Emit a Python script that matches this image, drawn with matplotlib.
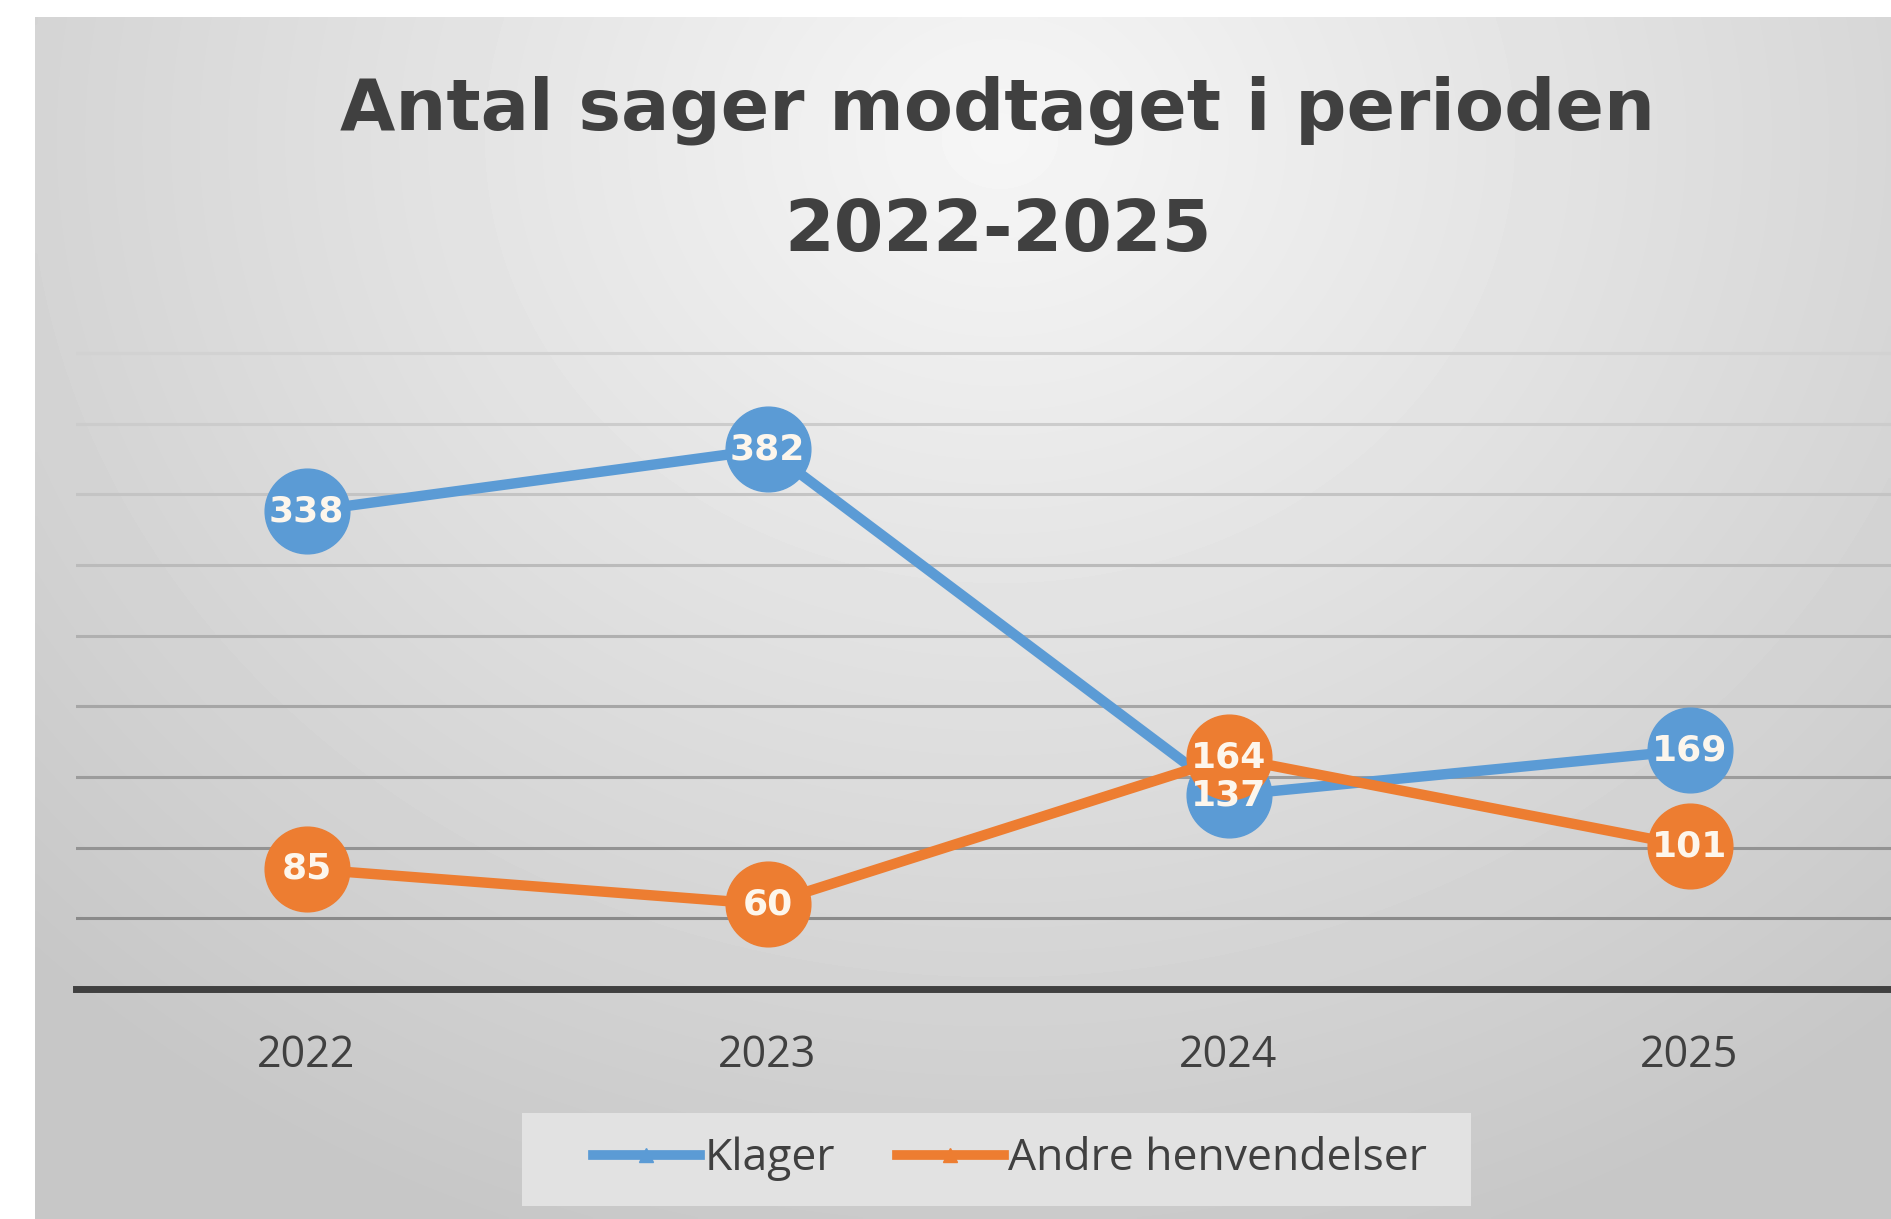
import numpy as np
import matplotlib.pyplot as plt
from matplotlib.lines import Line2D
from matplotlib.patches import Rectangle

years = ["2022", "2023", "2024", "2025"]
klager = [338, 382, 137, 169]
andre = [85, 60, 164, 101]
grid_values = [50, 100, 150, 200, 250, 300, 350, 400, 450]

BLUE = "#5b9bd5"
ORANGE = "#ed7d31"
TEXT = "#404040"

W, H = 1891, 1219
fig = plt.figure(figsize=(W / 100, H / 100), dpi=100)
fig.patch.set_facecolor("white")

# gradient background of the chart area
bg = fig.add_axes([35 / W, 0, 1 - 35 / W, 1 - 17 / H])
bg.set_axis_off()
yy, xx = np.mgrid[0:1:300j, 0:1:400j]
r = np.sqrt(((xx - 0.52) / 0.75) ** 2 + ((yy - 0.1) / 1.0) ** 2)
shade = np.clip(0.965 - 0.19 * r, 0.78, 0.97)
bg.imshow(shade, cmap="gray", vmin=0, vmax=1, aspect="auto",
          extent=[0, 1, 1, 0], interpolation="bilinear")

ax = fig.add_axes([76 / W, (H - 989) / H, 1844 / W, 480 * 1.413 / H])
ax.set_facecolor("none")
x = np.arange(len(years))

ax.set_xlim(-0.5, 3.5)
ax.set_ylim(0, 480)
ax.set_yticks(grid_values)
ax.yaxis.grid(True)
grid_cols = ["#d2d2d2", "#cccccc", "#c4c4c4", "#bbbbbb", "#b0b0b0",
             "#a6a6a6", "#9c9c9c", "#939393", "#8a8a8a"]
for gl, c in zip(ax.get_ygridlines(), reversed(grid_cols)):
    gl.set_color(c)
    gl.set_linewidth(2.2)
ax.tick_params(axis="y", left=False, labelleft=False)
ax.set_xticks(x)
ax.set_xticklabels(years, fontsize=31, color=TEXT, family="Open Sans")
ax.tick_params(axis="x", length=0, pad=32)
for s in ["top", "right", "left"]:
    ax.spines[s].set_visible(False)
ax.spines["bottom"].set_color("#404040")
ax.spines["bottom"].set_linewidth(5)

for vals, col in [(klager, BLUE), (andre, ORANGE)]:
    ax.plot(x, vals, color=col, lw=7.5, marker="o", markersize=61,
            markerfacecolor=col, markeredgecolor=col, clip_on=False, zorder=3)
    for xi, v in zip(x, vals):
        ax.text(xi, v, str(v), ha="center", va="center", fontsize=26,
                fontweight="bold", color="#fdf6ec", family="DejaVu Sans",
                zorder=5)

fig.text(998 / W, 1 - 110 / H, "Antal sager modtaget i perioden",
         ha="center", va="center", fontsize=51.5, fontweight="bold",
         color=TEXT, family="DejaVu Sans")
fig.text(998 / W, 1 - 232 / H, "2022-2025",
         ha="center", va="center", fontsize=51.5, fontweight="bold",
         color=TEXT, family="DejaVu Sans")

# legend background box
fig.add_artist(Rectangle((522 / W, 1 - 1206 / H), 949 / W, 93 / H,
                         transform=fig.transFigure, facecolor="#e2e2e2",
                         edgecolor="none", zorder=1))
handles = [Line2D([], [], color=BLUE, lw=7, marker="^", markersize=10),
           Line2D([], [], color=ORANGE, lw=7, marker="^", markersize=10)]
leg = fig.legend(handles, ["Klager", "Andre henvendelser"], loc="center",
                 bbox_to_anchor=(1010 / W, 1 - 1159 / H), ncol=2,
                 frameon=False, prop={"family": "Open Sans", "size": 32},
                 handlelength=2.4, handletextpad=0.1, columnspacing=1.4)
leg.set_zorder(2)
for t in leg.get_texts():
    t.set_color(TEXT)

fig.savefig("out.png", dpi=100)
